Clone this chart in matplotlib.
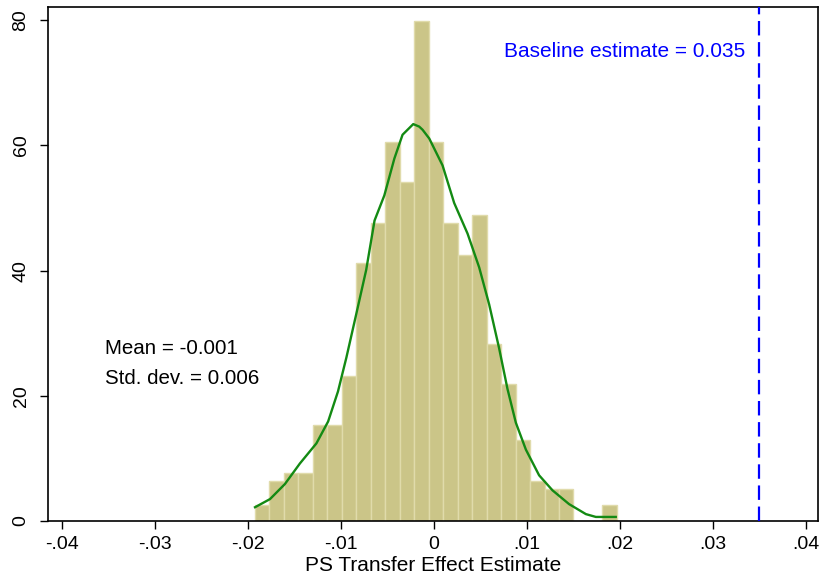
import numpy as np
import matplotlib
matplotlib.use("Agg")
import matplotlib.pyplot as plt
from matplotlib.ticker import FuncFormatter

plt.rcParams["font.family"] = ["Liberation Sans", "DejaVu Sans"]

# histogram: 25 bins, density scale (500 draws)
bin_start = -0.01921
bin_width = 0.001556
density = [2.57, 6.44, 7.72, 7.72, 15.4, 15.4, 23.2, 41.2, 47.6, 60.5,
           54.1, 79.8, 60.5, 47.6, 42.5, 48.9, 28.3, 21.9, 12.9, 6.44,
           5.15, 5.15, 0.0, 0.0, 2.57]

# kernel density curve
kde_x = [-0.01921, -0.01760, -0.01600, -0.01438, -0.01261, -0.01135, -0.01029,
         -0.00939, -0.00832, -0.00726, -0.00636, -0.00531, -0.00423, -0.00335,
         -0.00220, -0.00156, -0.00120, -0.00048, 0.00095, 0.00220, 0.00364,
         0.00489, 0.00596, 0.00703, 0.00793, 0.00883, 0.00991, 0.01133,
         0.01277, 0.01455, 0.01636, 0.01743, 0.01957]
kde_y = [2.2, 3.5, 5.9, 9.2, 12.4, 15.9, 20.7, 26.1, 33.1, 40.1, 48.0, 52.0,
         57.9, 61.7, 63.4, 63.0, 62.5, 61.1, 56.8, 50.8, 45.9, 40.5, 34.6,
         27.6, 21.1, 15.7, 11.4, 7.3, 4.9, 2.7, 1.1, 0.65, 0.65]

baseline = 0.035
mean_txt = "Mean = -0.001"
sd_txt = "Std. dev. = 0.006"
xticks = [-0.04, -0.03, -0.02, -0.01, 0, 0.01, 0.02, 0.03, 0.04]
yticks = [0, 20, 40, 60, 80]

fig = plt.figure(figsize=(8.22, 5.82), dpi=100)
ax = fig.add_axes([0.058, 0.1048, 0.937, 0.8827])

edges = bin_start + bin_width * np.arange(len(density))
ax.bar(edges, density, width=bin_width, align="edge",
       color="#cbc588", edgecolor="#e0dbab", linewidth=1.0, zorder=2)
ax.plot(kde_x, kde_y, color="#138a13", linewidth=1.7, zorder=3)
ax.axvline(baseline, color="#0000ff", linewidth=1.6, dashes=(6.5, 3), zorder=3)

ax.text(0.03347, 75.0, "Baseline estimate = 0.035", color="#0000ff",
        fontsize=15, ha="right", va="center")
ax.text(-0.03534, 27.6, mean_txt, fontsize=14.8, ha="left", va="center")
ax.text(-0.03534, 22.8, sd_txt, fontsize=14.8, ha="left", va="center")

ax.set_xlim(-0.0415, 0.0413)
ax.set_ylim(0, 82.06)
ax.set_xticks(xticks)
ax.set_yticks(yticks)


def fmt(v, pos):
    if abs(v) < 1e-12:
        return "0"
    s = "%.2f" % v
    return s.replace("0.", ".")


ax.xaxis.set_major_formatter(FuncFormatter(fmt))
ax.tick_params(direction="out", length=6, width=1, labelsize=14)
ax.tick_params(axis="x", pad=5)
ax.tick_params(axis="y", labelrotation=90, pad=7)
for lab in ax.get_yticklabels():
    lab.set_va("center")
ax.set_xlabel("PS Transfer Effect Estimate", fontsize=15, labelpad=2)
for sp in ax.spines.values():
    sp.set_linewidth(1.2)

fig.savefig("out.png", dpi=100)
